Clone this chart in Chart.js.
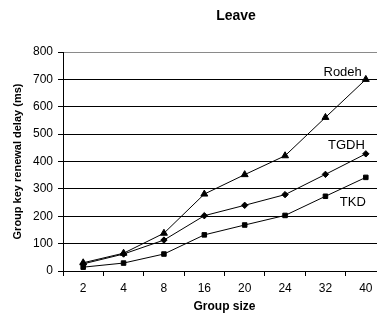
<!DOCTYPE html>
<html>
<head>
<meta charset="utf-8">
<script src="https://cdn.jsdelivr.net/npm/chart.js@4"></script>
<style>
  html, body { margin: 0; padding: 0; background: #fff; overflow: hidden; }
  #wrap { width: 472px; height: 317px; }
</style>
</head>
<body>
<div id="wrap"><canvas id="leaveChart"></canvas></div>
<script>
// group sizes on the x axis
var groupSizes = ['2', '4', '8', '16', '20', '24', '32', '40'];

// delay in ms
var rodeh = [30, 65, 138, 281, 352, 421, 561, 700];
var tgdh  = [26, 62, 113, 202, 240, 279, 353, 428];
var tkd   = [14, 29, 62, 132, 168, 203, 273, 342];

var seriesNames = ['Rodeh', 'TGDH', 'TKD'];
// value where each series name sits, next to the last point
var nameValues = [725, 459, 251];

var chartTitle = 'Leave';

var font = '"Liberation Sans", Arial, sans-serif';

// title + series names drawn by hand, the original figure is cropped on the right
var textPlugin = {
    id: 'figureText',
    afterDatasetsDraw: function(chart) {
        var ctx = chart.ctx;
        var xs = chart.scales.x, ys = chart.scales.y;
        var lastX = xs.getPixelForValue(groupSizes.length - 1);
        var shift = [-4, -1, 0];
        ctx.save();
        ctx.fillStyle = '#000';
        ctx.textBaseline = 'middle';

        ctx.font = 'bold 14px ' + font;
        ctx.textAlign = 'center';
        ctx.fillText(chartTitle, 236, 16);

        ctx.font = '13px ' + font;
        ctx.textAlign = 'right';
        for (var i = 0; i < seriesNames.length; i++) {
            ctx.fillText(seriesNames[i], lastX + shift[i], ys.getPixelForValue(nameValues[i]));
        }
        ctx.restore();
    }
};

function makeSet(label, data, style, radius) {
    return {
        label: label,
        data: data,
        borderColor: '#000',
        backgroundColor: '#000',
        borderWidth: 1,
        pointStyle: style,
        pointRadius: radius,
        pointBorderWidth: 1,
        tension: 0
    };
}

var ctx = document.getElementById('leaveChart').getContext('2d');
var leaveChart = new Chart(ctx, {
    type: 'line',
    data: {
        labels: groupSizes,
        datasets: [
            makeSet('Rodeh', rodeh, 'triangle', 4),
            makeSet('TGDH', tgdh, 'rectRot', 3.2),
            makeSet('TKD', tkd, 'rect', 3.2)
        ]
    },
    options: {
        responsive: true,
        maintainAspectRatio: false,
        animation: false,
        layout: { padding: { left: 11, right: 86, top: 52, bottom: 0 } },
        plugins: {
            legend: { display: false },
            tooltip: { enabled: false },
            title: { display: false }
        },
        scales: {
            x: {
                offset: true,
                grid: {
                    offset: true,
                    drawOnChartArea: false,
                    drawTicks: true,
                    tickLength: 5,
                    color: '#000'
                },
                border: { color: '#000', width: 1 },
                ticks: { color: '#000', padding: 5, font: { family: font, size: 12 } },
                title: {
                    display: true,
                    text: 'Group size',
                    color: '#000',
                    font: { family: font, size: 12, weight: 'bold' },
                    padding: { top: 0, bottom: 3 }
                },
                afterFit: function(s) { s.height = 46; }
            },
            y: {
                min: 0,
                max: 800,
                grid: {
                    color: function(c) { return c.tick && c.tick.value === 800 ? '#8a8a8a' : '#000'; },
                    tickColor: '#000',
                    tickLength: 5,
                    lineWidth: 1
                },
                border: { color: '#000', width: 1 },
                ticks: { stepSize: 100, color: '#000', padding: 5, font: { family: font, size: 12 } },
                title: {
                    display: true,
                    text: 'Group key renewal delay (ms)',
                    color: '#000',
                    font: { family: font, size: 11, weight: 'bold' },
                    padding: 0
                },
                afterFit: function(s) { s.width = 52; }
            }
        }
    },
    plugins: [textPlugin]
});
</script>
</body>
</html>
